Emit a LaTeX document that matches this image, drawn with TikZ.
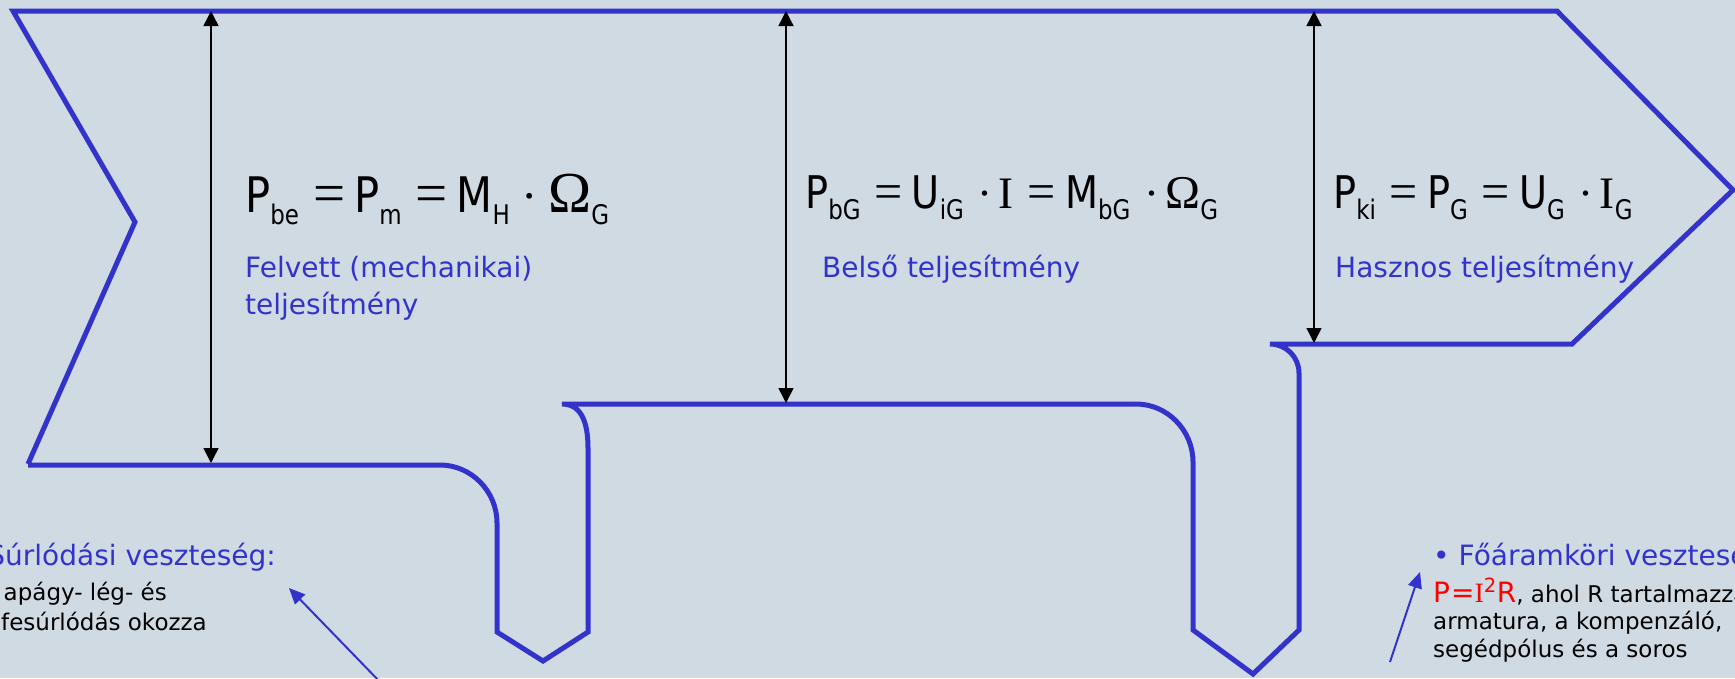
\documentclass[tikz,border=0pt]{standalone}
\usepackage{fontspec}
\setmainfont{DejaVu Sans}
\newfontfamily\symf{Liberation Serif}
\newfontfamily\eqf[FakeStretch=0.85]{DejaVu Sans}
\usetikzlibrary{arrows.meta}
\definecolor{bg}{RGB}{207,218,227}
\definecolor{flow}{RGB}{51,51,204}
\definecolor{redt}{RGB}{255,0,0}
\newcommand\lbsz{\fontsize{28}{37}\selectfont}
\newcommand\smsz{\fontsize{23}{29}\selectfont}
\def\sbsz{27}\def\sbdrop{12pt}\def\opsz{57}\def\omsz{58}\def\ibsz{45}\def\dta{12pt}\def\dtb{10pt}
\newcommand\sbx[1]{\raisebox{-\sbdrop}{\fontsize{\sbsz}{\sbsz}\selectfont #1}}
\newcommand\EQ{\hspace{14pt}{\fontsize{\opsz}{\opsz}\symf =}\hspace{9pt}}
\newcommand\DOT{\hspace{\dta}{\symf ·}\hspace{\dtb}}
\newcommand\Om{{\fontsize{\omsz}{\omsz}\symf Ω}}
\newcommand\Ib{{\fontsize{\ibsz}{\ibsz}\symf I}}
\tikzset{
  flowline/.style={draw=flow, line width=5pt, line join=miter},
  dimarrow/.style={draw=black, line width=1.5pt, {Triangle[width=15pt,length=15pt]}-{Triangle[width=15pt,length=15pt]}},
  notearrow/.style={draw=flow, line width=2pt, -{Triangle[width=14pt,length=16pt]}},
  eqbig/.style={inner sep=0pt, anchor=base west, font=\eqf\fontsize{49}{49}\selectfont},
  eqmid/.style={inner sep=0pt, anchor=base west, font=\eqf\fontsize{45}{45}\selectfont},
  label/.style={inner sep=0pt, anchor=base west, text=flow, font=\lbsz, align=left},
  small/.style={inner sep=0pt, font=\smsz, text=black}
}
\begin{document}
\begin{tikzpicture}[x=1pt, y=-1pt]
\useasboundingbox (0,0) rectangle (1735,678);
\fill[bg] (0,0) rectangle (1735,678);

% flow outline
\draw[flowline] (28,464) -- (135,222) -- (13,11) -- (1557,11) -- (1733,190) -- (1572,344) -- (1270,344)
  .. controls (1286,344) and (1299,357) .. (1299,373) -- (1299,630) -- (1253,674) -- (1193,630) -- (1193,462)
  .. controls (1193,430) and (1167,404) .. (1136,404) -- (562,404)
  .. controls (580,404) and (588,420) .. (588,448) -- (588,632) -- (543,661) -- (497,632) -- (497,523)
  .. controls (497,491) and (471,465) .. (440,465) -- (28,465);

% dimension arrows
\coordinate (a1t) at (211,11);  \coordinate (a1b) at (211,463);
\coordinate (a2t) at (786,11);  \coordinate (a2b) at (786,403);
\coordinate (a3t) at (1314,11); \coordinate (a3b) at (1314,343);
\draw[dimarrow] (a1t) -- (a1b);
\draw[dimarrow] (a2t) -- (a2b);
\draw[dimarrow] (a3t) -- (a3b);

% equations
\node[eqbig] (eq1) at (245,212) {P\sbx{be}\EQ P\sbx{m}\EQ M\sbx{H}\DOT\Om\sbx{G}};
\node[eqmid] (eq2) at (805,208) {\def\sbdrop{11pt}\def\opsz{50}\def\omsz{47}\def\dta{14pt}\def\dtb{6pt}%
  P\sbx{bG}\EQ U\sbx{iG}\DOT\Ib\EQ M\sbx{bG}\DOT\Om\sbx{G}};
\node[eqmid] (eq3) at (1333,208) {\def\sbdrop{11pt}\def\opsz{50}\def\dta{14pt}\def\dtb{6pt}%
  P\sbx{ki}\EQ P\sbx{G}\EQ U\sbx{G}\DOT\Ib\sbx{G}};

% labels
\node[label] (l1) at (245,314) {Felvett (mechanikai)\\teljesítmény};
\node[label] (l2) at (822,277) {Belső teljesítmény};
\node[label] (l3) at (1335,277) {Hasznos teljesítmény};

% left note
\node[label, anchor=base east] (n1) at (276,565) {Súrlódási veszteség:};
\node[small, anchor=base east] (n1a) at (167,600) {apágy- lég- és};
\node[small, anchor=base east] (n1b) at (207,630) {fesúrlódás okozza};
\coordinate (f1s) at (382,684); \coordinate (f1e) at (289,588);
\draw[notearrow] (f1s) -- (f1e);

% right note
\node[label] (n2) at (1433,565) {• Főáramköri veszteség};
\node[small, anchor=base west] (n2a) at (1433,602) {{\fontsize{28}{28}\selectfont\color{redt}P\hspace{1pt}={\symf I}\textsuperscript{2}R}, ahol R tartalmazza};
\node[small, anchor=base west] (n2b) at (1433,629) {armatura, a kompenzáló,};
\node[small, anchor=base west] (n2c) at (1433,657) {segédpólus és a soros};
\coordinate (f2s) at (1390,662); \coordinate (f2e) at (1420,572);
\draw[notearrow] (f2s) -- (f2e);
\end{tikzpicture}
\end{document}
